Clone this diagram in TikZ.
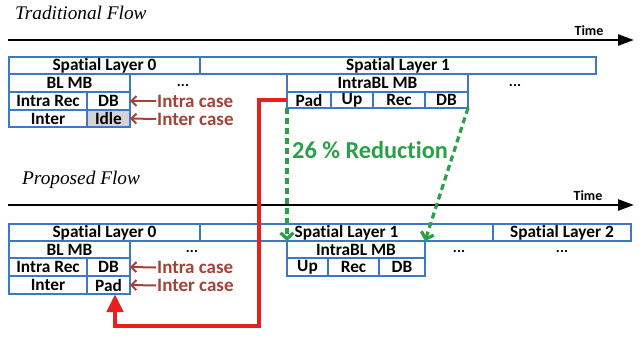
\documentclass[tikz,border=0pt]{standalone}
\usepackage{fontspec}
\setmainfont{Carlito}[Ligatures=CommonOff]
\newfontfamily\flowfont{Liberation Serif}
\usetikzlibrary{arrows.meta}
\definecolor{boxblue}{RGB}{60,120,200}
\definecolor{casered}{RGB}{165,65,55}
\definecolor{pathred}{RGB}{235,30,30}
\definecolor{redgreen}{RGB}{40,160,70}
\definecolor{idlegray}{RGB}{212,212,212}
\newcommand{\mycell}[6]{\node[cell, minimum width=#4, minimum height=#5] (#1) at (#2,#3) {#6};}
\begin{document}
\begin{tikzpicture}[x=1pt,y=-1pt,
  cell/.style={draw=boxblue, line width=1.3pt, inner sep=0pt, outer sep=0pt, anchor=north west,
    font=\bfseries\fontsize{17.3}{17}\selectfont},
  flowtitle/.style={font=\flowfont\itshape\fontsize{19.3}{20}\selectfont, anchor=west, inner sep=0pt},
  timeline/.style={line width=2.6pt, -{Triangle[length=16pt,width=11pt]}},
  timelabel/.style={font=\bfseries\fontsize{14}{14}\selectfont, inner sep=0pt},
  dotsl/.style={font=\bfseries\fontsize{15}{15}\selectfont, inner sep=0pt},
  casetext/.style={font=\bfseries\fontsize{19}{17}\selectfont, text=casered, anchor=west,
    inner sep=1pt, text height=12pt, text depth=0pt},
  casearrow/.style={draw=casered, line width=2pt, -{Straight Barb[length=5pt,width=10pt]}},
  greenarrow/.style={draw=redgreen, line width=3.2pt, dash pattern=on 6pt off 4pt, -{Straight Barb[length=6pt,width=13pt]}},
  redpath/.style={draw=pathred, line width=4.5pt, -{Triangle[length=18pt,width=16pt]}}
]
\useasboundingbox (0,0) rectangle (640,337);

% ---------- Traditional flow ----------
\node[flowtitle] (trad) at (15,13) {Traditional Flow};
\coordinate (t1s) at (8,40);
\coordinate (t1e) at (634,40);
\draw[timeline] (t1s) -- (t1e);
\node[timelabel] (time1) at (589,31) {Time};

\mycell{slA0}{9}{57}{191}{17}{Spatial Layer 0}
\mycell{slA1}{200}{57}{396}{17}{Spatial Layer 1}
\mycell{blA}{9}{74}{121}{18}{BL MB}
\mycell{irA}{9}{92}{78}{18}{Intra Rec}
\mycell{dbA}{87}{92}{43}{18}{DB}
\mycell{inA}{9}{110}{78}{17}{Inter}
\node[cell, fill=idlegray, minimum width=43, minimum height=17] (idA) at (87,110) {Idle};
\mycell{ibA}{287}{74}{181}{18}{IntraBL MB}
\mycell{padA}{287}{92}{44}{16}{Pad}
\mycell{upA}{331}{92}{42}{16}{Up}
\mycell{recA}{373}{92}{52}{16}{Rec}
\mycell{dbA2}{425}{92}{43}{16}{DB}
\node[dotsl] (dotsA1) at (183,85) {...};
\node[dotsl] (dotsA2) at (515,85) {...};

\node[casetext] (intraA) at (156,101) {Intra case};
\node[casetext] (interA) at (156,119) {Inter case};
\draw[casearrow] (intraA.west) -- (dbA.east);
\draw[casearrow] (interA.west) -- (idA.east);

% ---------- Proposed flow ----------
\node[flowtitle] (prop) at (22,180) {Proposed Flow};
\coordinate (t2s) at (8,205);
\coordinate (t2e) at (634,205);
\draw[timeline] (t2s) -- (t2e);
\node[timelabel] (time2) at (588,196) {Time};

\mycell{slB0}{9}{224}{191}{17}{Spatial Layer 0}
\mycell{slB1}{200}{224}{293}{17}{Spatial Layer 1}
\mycell{slB2}{493}{224}{138}{17}{Spatial Layer 2}
\mycell{blB}{9}{241}{121}{17}{BL MB}
\mycell{irB}{9}{258}{78}{18}{Intra Rec}
\mycell{dbB}{87}{258}{43}{18}{DB}
\mycell{inB}{9}{276}{78}{18}{Inter}
\mycell{padB}{87}{276}{43}{18}{Pad}
\mycell{ibB}{287}{241}{138}{17}{IntraBL MB}
\mycell{upB}{287}{258}{41}{18}{Up}
\mycell{recB}{328}{258}{51}{18}{Rec}
\mycell{dbB2}{379}{258}{46}{18}{DB}
\node[dotsl] (dotsB1) at (192,251) {...};
\node[dotsl] (dotsB2) at (459,251) {...};
\node[dotsl] (dotsB3) at (562,251) {...};

\node[casetext] (intraB) at (156,267.5) {Intra case};
\node[casetext] (interB) at (156,285.5) {Inter case};
\draw[casearrow] (intraB.west) -- (dbB.east);
\draw[casearrow] (interB.west) -- (padB.east);

% ---------- Red path ----------
\coordinate (r1) at (259,100);
\coordinate (r2) at (259,326);
\coordinate (r3) at (115,326);
\draw[redpath] (padA.west |- r1) -- (r1) -- (r2) -- (r3) -- (r3 |- padB.south);

% ---------- Green arrows ----------
\draw[greenarrow] (padA.south west) -- (ibB.north west);
\draw[greenarrow] (dbA2.south east) -- (ibB.north east);
\node[font=\bfseries\fontsize{24.3}{24}\selectfont, text=redgreen, inner sep=0pt] (red) at (370,150) {26 \% Reduction};

\end{tikzpicture}
\end{document}
